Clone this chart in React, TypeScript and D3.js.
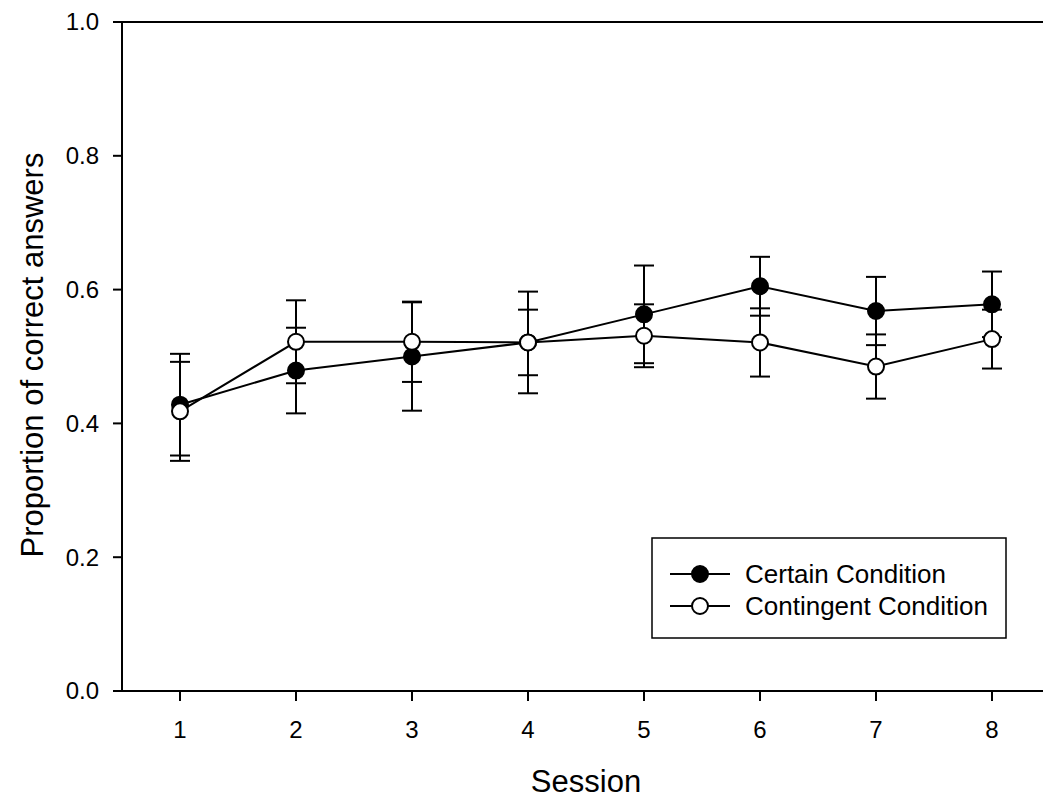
import React from "react";
import * as d3 from "d3";

const sessions = [1, 2, 3, 4, 5, 6, 7, 8];
const certainMean = [0.428, 0.479, 0.5, 0.521, 0.563, 0.605, 0.568, 0.578];
const certainErr = [0.076, 0.064, 0.081, 0.076, 0.073, 0.044, 0.051, 0.049];
const contingentMean = [0.418, 0.522, 0.522, 0.521, 0.531, 0.521, 0.485, 0.526];
const contingentErr = [0.074, 0.062, 0.06, 0.049, 0.047, 0.051, 0.048, 0.044];
const yTicks = [0, 0.2, 0.4, 0.6, 0.8, 1.0];
const seriesNames = ["Certain Condition", "Contingent Condition"];

const FONT = "'Liberation Sans', Arial, sans-serif";

export default function App() {
  const W = 1043, H = 798;
  const x = d3.scaleLinear().domain([1, 8]).range([180, 992]);
  const y = d3.scaleLinear().domain([0, 1]).range([691, 22]);
  const axisLeft = 122;
  const line = d3.line<number>().x((_, i) => x(sessions[i])).y((d) => y(d));

  const series = [
    { name: seriesNames[0], mean: certainMean, err: certainErr, fill: "#000" },
    { name: seriesNames[1], mean: contingentMean, err: contingentErr, fill: "#fff" },
  ];
  const r = 8;
  const capHalf = 10;

  return (
    <svg width={W} height={H} style={{ position: "absolute", left: 0, top: 0, background: "#fff" }}>
      <rect x={0} y={0} width={W} height={H} fill="#fff" />
      <line x1={113} x2={W} y1={y(1)} y2={y(1)} stroke="#000" strokeWidth={2} />
      <line x1={113} x2={W} y1={y(0)} y2={y(0)} stroke="#000" strokeWidth={2} />
      <line x1={axisLeft} x2={axisLeft} y1={y(1)} y2={y(0)} stroke="#000" strokeWidth={2} />
      {yTicks.map((t) => (
        <g key={t}>
          <line x1={113} x2={axisLeft} y1={y(t)} y2={y(t)} stroke="#000" strokeWidth={2} />
          <text x={99} y={y(t)} dy="0.35em" textAnchor="end" fontFamily={FONT} fontSize={24}>
            {t.toFixed(1)}
          </text>
        </g>
      ))}
      {sessions.map((s) => (
        <g key={s}>
          <line x1={x(s)} x2={x(s)} y1={y(0)} y2={y(0) + 10} stroke="#000" strokeWidth={2} />
          <text x={x(s)} y={738} textAnchor="middle" fontFamily={FONT} fontSize={24}>
            {s}
          </text>
        </g>
      ))}
      <text x={586} y={792} textAnchor="middle" fontFamily={FONT} fontSize={31}>
        Session
      </text>
      <text
        transform={`translate(43,355) rotate(-90)`}
        textAnchor="middle"
        fontFamily={FONT}
        fontSize={31}
      >
        Proportion of correct answers
      </text>
      {series.map((se) =>
        se.mean.map((m, i) => {
          const cx = x(sessions[i]);
          const top = y(m + se.err[i]);
          const bot = y(m - se.err[i]);
          return (
            <g key={se.name + i} stroke="#000" strokeWidth={2}>
              <line x1={cx} x2={cx} y1={top} y2={bot} />
              <line x1={cx - capHalf} x2={cx + capHalf} y1={top} y2={top} />
              <line x1={cx - capHalf} x2={cx + capHalf} y1={bot} y2={bot} />
            </g>
          );
        })
      )}
      {series.map((se) => (
        <path key={se.name + "l"} d={line(se.mean) || ""} fill="none" stroke="#000" strokeWidth={2} />
      ))}
      {series.map((se) =>
        se.mean.map((m, i) => (
          <circle key={se.name + "c" + i} cx={x(sessions[i])} cy={y(m)} r={r} fill={se.fill} stroke="#000" strokeWidth={2} />
        ))
      )}
      <rect x={652} y={538} width={354} height={100} fill="#fff" stroke="#000" strokeWidth={1.5} />
      {series.map((se, i) => {
        const ly = 574 + i * 32;
        return (
          <g key={se.name + "leg"}>
            <line x1={670} x2={730} y1={ly} y2={ly} stroke="#000" strokeWidth={2} />
            <circle cx={700} cy={ly} r={r} fill={se.fill} stroke="#000" strokeWidth={2} />
            <text x={745} y={ly} dy="0.35em" fontFamily={FONT} fontSize={26}>
              {se.name}
            </text>
          </g>
        );
      })}
    </svg>
  );
}
